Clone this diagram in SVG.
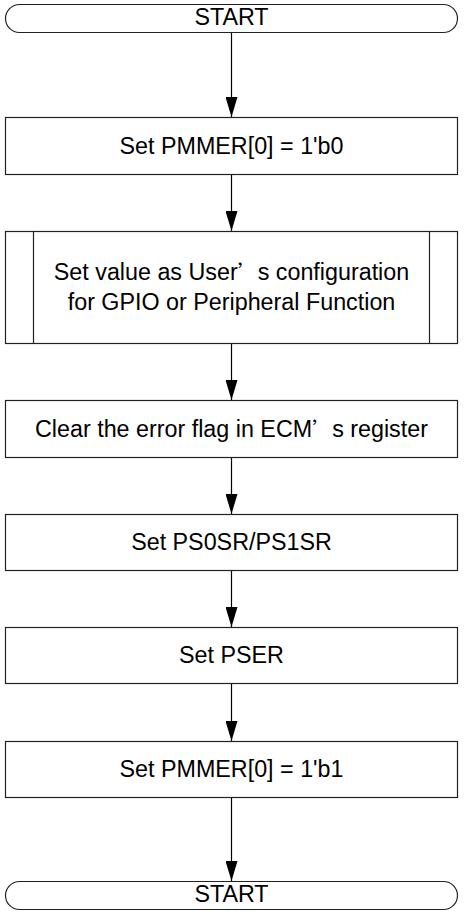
<svg xmlns="http://www.w3.org/2000/svg" width="464" height="917" viewBox="0 0 464 917">
<style>
.n{fill:#fff;stroke:#222;stroke-width:1.2}
.t{font-family:"Liberation Sans",Arial,sans-serif;font-size:23.3px;fill:#000;text-anchor:middle}
.q{font-family:"Noto Sans CJK SC",sans-serif;font-size:20px}
.c{stroke:#000;stroke-width:1.2;fill:none;marker-end:url(#ah)}
</style>
<defs>
<marker id="ah" markerUnits="userSpaceOnUse" markerWidth="20" markerHeight="12" refX="20" refY="6" orient="auto" viewBox="0 0 20 12">
<path d="M0,0 L20,6 L0,12 Z" fill="#000"/>
</marker>
</defs>
<g id="connectors">
<path class="c" d="M231.5,32 V117"/>
<path class="c" d="M231.5,174 V231"/>
<path class="c" d="M231.5,343 V400"/>
<path class="c" d="M231.5,457 V514"/>
<path class="c" d="M231.5,570 V627"/>
<path class="c" d="M231.5,683 V741"/>
<path class="c" d="M231.5,797 V881"/>
</g>
<g id="start">
<rect class="n" x="5.5" y="4.5" width="452" height="28" rx="14"/>
<text class="t" x="231.5" y="25">START</text>
</g>
<g id="step1">
<rect class="n" x="5.5" y="117.5" width="452" height="57"/>
<text class="t" x="231.5" y="153.5">Set PMMER[0] = 1'b0</text>
</g>
<g id="step2">
<rect class="n" x="5.5" y="231.5" width="452" height="112"/>
<path class="n" d="M33.5,231.5 V343.5 M429.5,231.5 V343.5"/>
<text class="t" x="231.5" y="280">Set value as User<tspan class="q">’</tspan>s configuration</text>
<text class="t" x="231.5" y="310">for GPIO or Peripheral Function</text>
</g>
<g id="step3">
<rect class="n" x="5.5" y="400.5" width="452" height="57"/>
<text class="t" x="231.5" y="437">Clear the error flag in ECM<tspan class="q">’</tspan>s register</text>
</g>
<g id="step4">
<rect class="n" x="5.5" y="514.5" width="452" height="56"/>
<text class="t" x="231.5" y="550">Set PS0SR/PS1SR</text>
</g>
<g id="step5">
<rect class="n" x="5.5" y="627.5" width="452" height="56"/>
<text class="t" x="231.5" y="663">Set PSER</text>
</g>
<g id="step6">
<rect class="n" x="5.5" y="741.5" width="452" height="56"/>
<text class="t" x="231.5" y="777">Set PMMER[0] = 1'b1</text>
</g>
<g id="end">
<rect class="n" x="5.5" y="881.5" width="452" height="28" rx="14"/>
<text class="t" x="231.5" y="902">START</text>
</g>
</svg>
